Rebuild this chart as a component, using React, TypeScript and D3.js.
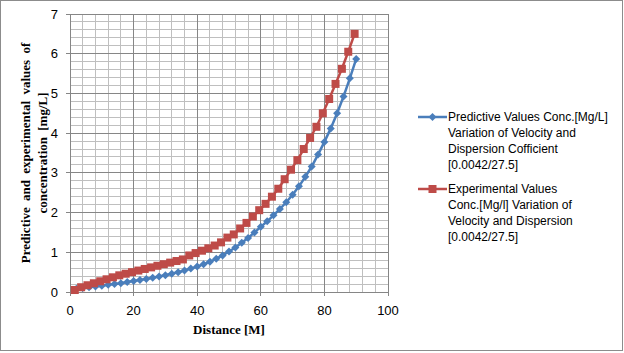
import React from 'react';
import * as d3 from 'd3';

// predictive series (blue diamonds)
const predX = [2, 4, 6, 8, 10, 12, 14, 16, 18, 20, 22, 24, 26, 28, 30, 32, 34, 36, 38, 40, 42, 44, 46, 48, 50,
  52, 54, 56, 58, 60, 62, 64, 66, 68, 70, 72, 74, 76, 78, 80, 82, 84, 86, 88, 90];
const predY = [0.08, 0.1, 0.12, 0.14, 0.16, 0.18, 0.2, 0.22, 0.25, 0.28, 0.3, 0.33, 0.36, 0.39, 0.42, 0.46, 0.5, 0.54,
  0.59, 0.64, 0.7, 0.76, 0.84, 0.92, 1.02, 1.12, 1.24, 1.36, 1.5, 1.64, 1.78, 1.93, 2.09, 2.26, 2.45, 2.66, 2.9,
  3.16, 3.46, 3.78, 4.12, 4.5, 4.92, 5.38, 5.87];

// experimental series (red squares)
const expX = [1.5, 3.5, 5.5, 7.5, 9.5, 11.5, 13.5, 15.5, 17.5, 19.5, 21.5, 23.5, 25.5, 27.5, 29.5, 31.5, 33.5, 35.5,
  37.5, 39.5, 41.5, 43.5, 45.5, 47.5, 49.5, 51.5, 53.5, 55.5, 57.5, 59.5, 61.5, 63.5, 65.5, 67.5, 69.5, 71.5, 73.5,
  75.5, 77.5, 79.5, 81.5, 83.5, 85.5, 87.5, 89.5];
const expY = [0.05, 0.12, 0.17, 0.22, 0.27, 0.32, 0.37, 0.42, 0.46, 0.5, 0.54, 0.58, 0.62, 0.66, 0.7, 0.74, 0.78, 0.82,
  0.92, 0.98, 1.04, 1.1, 1.17, 1.25, 1.37, 1.45, 1.6, 1.74, 1.9, 2.06, 2.22, 2.4, 2.6, 2.84, 3.08, 3.32, 3.6, 3.88,
  4.16, 4.5, 4.86, 5.24, 5.62, 6.05, 6.5];

const xTicks = [0, 20, 40, 60, 80, 100];
const yTicks = [0, 1, 2, 3, 4, 5, 6, 7];

const predLegend = ['Predictive Values Conc.[Mg/L]', 'Variation of  Velocity and', 'Dispersion Cofficient', '[0.0042/27.5]'];
const expLegend = ['Experimental Values', 'Conc.[Mg/l] Variation of', 'Velocity and Dispersion', '[0.0042/27.5]'];

const BLUE = '#4a7ebb';
const RED = '#be4b48';

const diamond = (cx: number, cy: number, r: number) =>
  `M${cx},${cy - r}L${cx + r},${cy}L${cx},${cy + r}L${cx - r},${cy}Z`;

export default function App() {
  const W = 624, H = 353;
  const x = d3.scaleLinear().domain([0, 100]).range([70, 388]);
  const y = d3.scaleLinear().domain([0, 7]).range([292, 14]);

  const pred = predX.map((v, i) => [v, predY[i]] as [number, number]);
  const exp = expX.map((v, i) => [v, expY[i]] as [number, number]);
  const line = d3.line<[number, number]>().x(d => x(d[0])).y(d => y(d[1]));

  const minorX = d3.range(0, 101, 4);
  const minorY = d3.range(0, 7.001, 0.2);
  const font = '"Liberation Sans", Arial, sans-serif';
  const serif = '"Liberation Serif", "Times New Roman", serif';

  return (
    <div style={{ position: 'fixed', left: 0, top: 0 }}>
      <svg width={W} height={H} style={{ display: 'block' }}>
        <rect x={0} y={0} width={W} height={H} fill="#fff" />
        <rect x={0.5} y={0.5} width={622} height={350} fill="none" stroke="#8c8c8c" />
        <g shapeRendering="crispEdges">
          {minorX.map(v => (
            <line key={'mx' + v} x1={x(v)} x2={x(v)} y1={y(0)} y2={y(7)} stroke="#bfbfbf" />
          ))}
          {minorY.map(v => (
            <line key={'my' + v} x1={x(0)} x2={x(100)} y1={y(v)} y2={y(v)} stroke="#bfbfbf" />
          ))}
          {xTicks.map(v => (
            <line key={'Mx' + v} x1={x(v)} x2={x(v)} y1={y(0) + 4} y2={y(7)} stroke="#868686" />
          ))}
          {yTicks.map(v => (
            <line key={'My' + v} x1={x(0) - 4} x2={x(100)} y1={y(v)} y2={y(v)} stroke="#868686" />
          ))}
        </g>
        {yTicks.map(v => (
          <text key={'yt' + v} x={58} y={y(v)} dy="0.35em" textAnchor="end" fontFamily={font} fontSize={13} fill="#000">{v}</text>
        ))}
        {xTicks.map(v => (
          <text key={'xt' + v} x={x(v)} y={310} dy="0.35em" textAnchor="middle" fontFamily={font} fontSize={13} fill="#000">{v}</text>
        ))}
        <text x={229} y={329} dy="0.35em" textAnchor="middle" fontFamily={serif} fontWeight="bold" fontSize={13}>Distance [M]</text>
        <g transform="translate(25,153) rotate(-90)">
          <text x={0} y={0} dy="0.35em" textAnchor="middle" fontFamily={serif} fontWeight="bold" fontSize={13} wordSpacing={3}>Predictive and experimental values of</text>
          <text x={0} y={17} dy="0.35em" textAnchor="middle" fontFamily={serif} fontWeight="bold" fontSize={13} wordSpacing={3}>concentration [mg/L]</text>
        </g>

        <path d={line(pred) || ''} fill="none" stroke={BLUE} strokeWidth={2.5} />
        {pred.map((d, i) => (
          <path key={'pd' + i} d={diamond(x(d[0]), y(d[1]), 4)} fill={BLUE} />
        ))}
        <path d={line(exp) || ''} fill="none" stroke={RED} strokeWidth={2.5} />
        {exp.map((d, i) => (
          <rect key={'ed' + i} x={x(d[0]) - 4} y={y(d[1]) - 4} width={8} height={8} fill={RED} />
        ))}

        <line x1={418} x2={447} y1={117} y2={117} stroke={BLUE} strokeWidth={2.5} />
        <path d={diamond(432.5, 117, 4)} fill={BLUE} />
        {predLegend.map((t, i) => (
          <text key={'pl' + i} x={448} y={117 + i * 16} dy="0.35em" fontFamily={font} fontSize={12}>{t}</text>
        ))}
        <line x1={418} x2={447} y1={189} y2={189} stroke={RED} strokeWidth={2.5} />
        <rect x={428.5} y={185} width={8} height={8} fill={RED} />
        {expLegend.map((t, i) => (
          <text key={'el' + i} x={448} y={189 + i * 16} dy="0.35em" fontFamily={font} fontSize={12}>{t}</text>
        ))}
      </svg>
    </div>
  );
}
